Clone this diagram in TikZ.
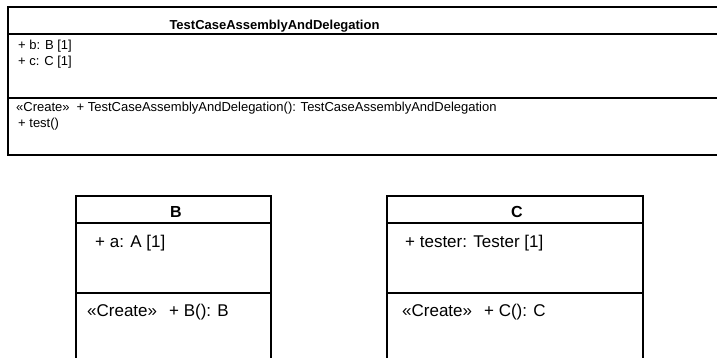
\documentclass[tikz,border=0pt]{standalone}
\usepackage{fontspec}
\setmainfont{Liberation Sans}
\usepackage{tikz}

\tikzset{
  classframe/.style={draw=black, line width=1.8pt},
  classsep/.style={draw=black, line width=1.4pt},
  bigname/.style={font=\fontsize{13}{15}\selectfont\bfseries, inner sep=0pt, anchor=base},
  bigmember/.style={font=\fontsize{13}{15}\selectfont, inner sep=0pt, anchor=base west},
  smallname/.style={font=\fontsize{16}{18}\selectfont\bfseries, inner sep=0pt, anchor=base},
  smallmember/.style={font=\fontsize{17}{19}\selectfont, inner sep=0pt, anchor=base west}
}

\begin{document}
\begin{tikzpicture}[x=1pt, y=-1pt]
        \useasboundingbox (0,0) rectangle (717,358);
        \clip (0,0) rectangle (717,358);
        % TestCaseAssemblyAndDelegation
        \draw[classframe] (8,7) rectangle (735,155);
        \draw[classsep] (8,34) -- (735,34);
        \draw[classsep] (8,98) -- (735,98);
        \node[bigname] (tcaName) at (274.5,29.5) {TestCaseAssemblyAndDelegation};
        \node[bigmember] (tcaAttrB) at (18,49.5) {+ b: B [1]};
        \node[bigmember] (tcaAttrC) at (18,65.5) {+ c: C [1]};
        \node[bigmember] (tcaCreate) at (16,112) {«Create»\hspace{7pt}+ TestCaseAssemblyAndDelegation(): TestCaseAssemblyAndDelegation};
        \node[bigmember] (tcaTest) at (18,128) {+ test()};
        % B
        \draw[classframe] (76,196) rectangle (271,375);
        \draw[classsep] (76,223) -- (271,223);
        \draw[classsep] (76,293) -- (271,293);
        \node[smallname] (bName) at (176,218) {B};
        \node[smallmember] (bAttrA) at (95,247.5) {+ a: A [1]};
        \node[smallmember] (bCreate) at (87,316) {«Create»\hspace{12pt}+ B(): B};
        % C
        \draw[classframe] (387,196) rectangle (643,375);
        \draw[classsep] (387,223) -- (643,223);
        \draw[classsep] (387,293) -- (643,293);
        \node[smallname] (cName) at (517,218) {C};
        \node[smallmember] (cAttrTester) at (405,247.5) {+ tester: Tester [1]};
        \node[smallmember] (cCreate) at (402,316) {«Create»\hspace{12pt}+ C(): C};
\end{tikzpicture}
\end{document}
